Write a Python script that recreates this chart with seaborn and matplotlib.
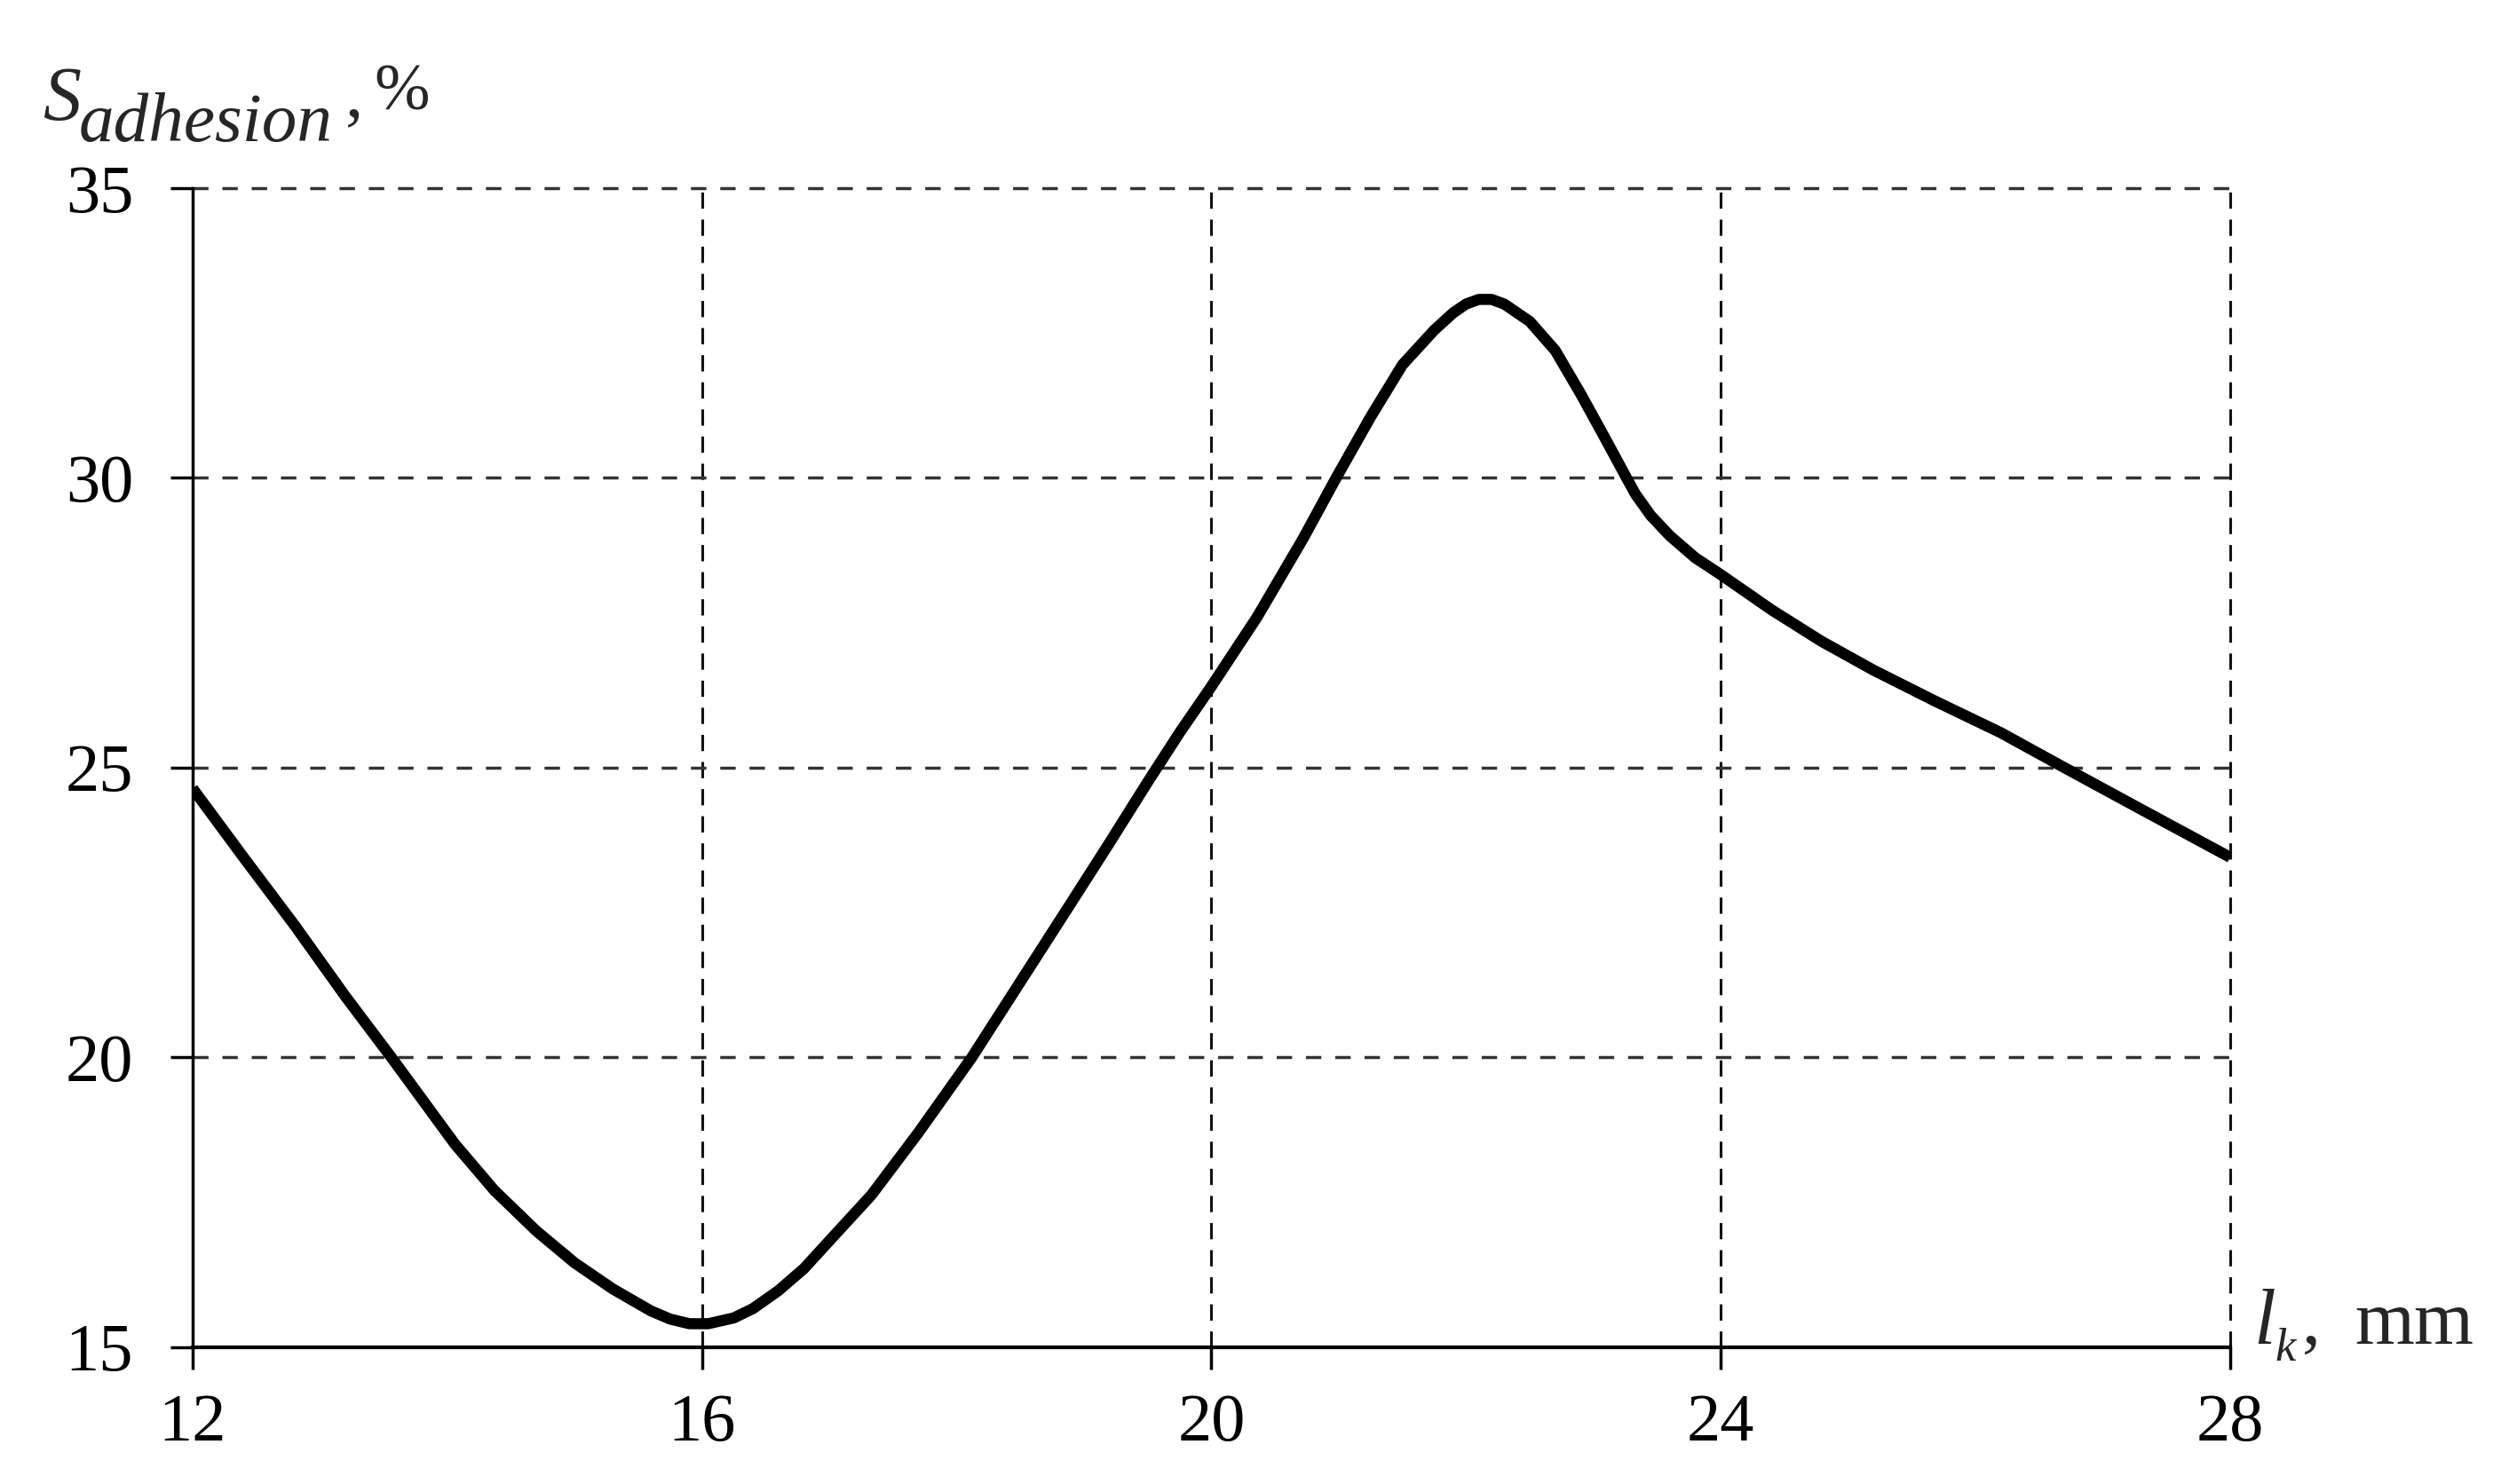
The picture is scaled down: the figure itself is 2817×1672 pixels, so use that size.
import numpy as np
import pandas as pd
import matplotlib
matplotlib.use("Agg")
import matplotlib.pyplot as plt
import seaborn as sns

# values
lk_mm = [12.0, 12.4, 12.8, 13.2, 13.56, 14.06, 14.37, 14.7, 15.0, 15.3,
         15.6, 15.75, 15.9, 16.05, 16.25, 16.4, 16.6, 16.8, 17.05, 17.33,
         17.7, 18.12, 18.5, 18.88, 19.2, 19.5, 19.75, 20.0, 20.36, 20.72,
         20.98, 21.25, 21.5, 21.75, 21.9, 22.0, 22.1, 22.2, 22.3, 22.5,
         22.7, 22.9, 23.1, 23.26, 23.33, 23.45, 23.6, 23.8, 24.0, 24.4,
         24.79, 25.2, 25.68, 26.2, 26.68, 27.3, 28.0]
s_adhesion = [24.64, 23.45, 22.28, 21.05, 20.0, 18.5, 17.7, 17.0, 16.45, 16.0,
              15.62, 15.48, 15.4, 15.4, 15.5, 15.66, 15.97, 16.35, 16.95, 17.62,
              18.7, 20.0, 21.3, 22.6, 23.7, 24.75, 25.6, 26.4, 27.6, 28.95,
              30.0, 31.05, 31.95, 32.55, 32.85, 33.0, 33.08, 33.08, 33.0, 32.7,
              32.2, 31.45, 30.65, 30.0, 29.72, 29.35, 29.0, 28.62, 28.33, 27.72,
              27.18, 26.68, 26.15, 25.6, 25.02, 24.28, 23.45]
x_ticks = [12, 16, 20, 24, 28]
y_ticks = [15, 20, 25, 30, 35]

df = pd.DataFrame({"lk": lk_mm, "S": s_adhesion})

sns.set_theme(style="white")
plt.rcParams["font.family"] = ["Liberation Serif", "DejaVu Serif"]

fig = plt.figure(figsize=(28.17, 16.72), dpi=100)
ax = fig.add_axes([0.077, 0.0924, 0.8147, 0.7808])

sns.lineplot(data=df, x="lk", y="S", color="black", linewidth=9, sort=False,
             ax=ax, zorder=5)
ax.lines[0].set_solid_joinstyle("round")
ax.lines[0].set_solid_capstyle("butt")

ax.set_xlim(12, 28)
ax.set_ylim(15, 35)
ax.set_xticks(x_ticks)
ax.set_yticks(y_ticks)
ax.set_xlabel("")
ax.set_ylabel("")

# dashed grid, drawn also on the top and right edges
for v in x_ticks[1:]:
    ax.axvline(v, color="#111111", lw=2.2, ls=(0, (6, 4)), clip_on=False, zorder=1)
for h in y_ticks[1:]:
    ax.axhline(h, color="#333333", lw=2.5, ls=(0, (5, 4.5)), clip_on=False, zorder=1)

for side in ["top", "right"]:
    ax.spines[side].set_visible(False)
ax.spines["left"].set_linewidth(2.5)
ax.spines["bottom"].set_linewidth(3.0)
ax.spines["left"].set_color("black")
ax.spines["bottom"].set_color("black")

ax.tick_params(axis="both", direction="out", length=18, width=2.5, color="black",
               labelsize=55, labelcolor="black", bottom=True, left=True)
ax.tick_params(axis="x", pad=20)
ax.tick_params(axis="y", pad=30)

# y axis label, top left
fig.text(0.0175, 0.919, "S", fontsize=62, style="italic", ha="left", va="baseline")
fig.text(0.0315, 0.905, "adhesion", fontsize=57, style="italic", ha="left", va="baseline")
fig.text(0.138, 0.922, ",", fontsize=58, ha="left", va="baseline")
fig.text(0.1495, 0.926, "%", fontsize=54, ha="left", va="baseline")

# x axis label, bottom right
fig.text(0.901, 0.0945, "l", fontsize=64, style="italic", ha="left", va="baseline")
fig.text(0.9095, 0.083, "k", fontsize=38, style="italic", ha="left", va="baseline")
fig.text(0.9205, 0.0945, ",", fontsize=60, ha="left", va="baseline")
fig.text(0.9415, 0.0945, "mm", fontsize=62, ha="left", va="baseline")

fig.savefig("out.png", dpi=100, facecolor="white")
